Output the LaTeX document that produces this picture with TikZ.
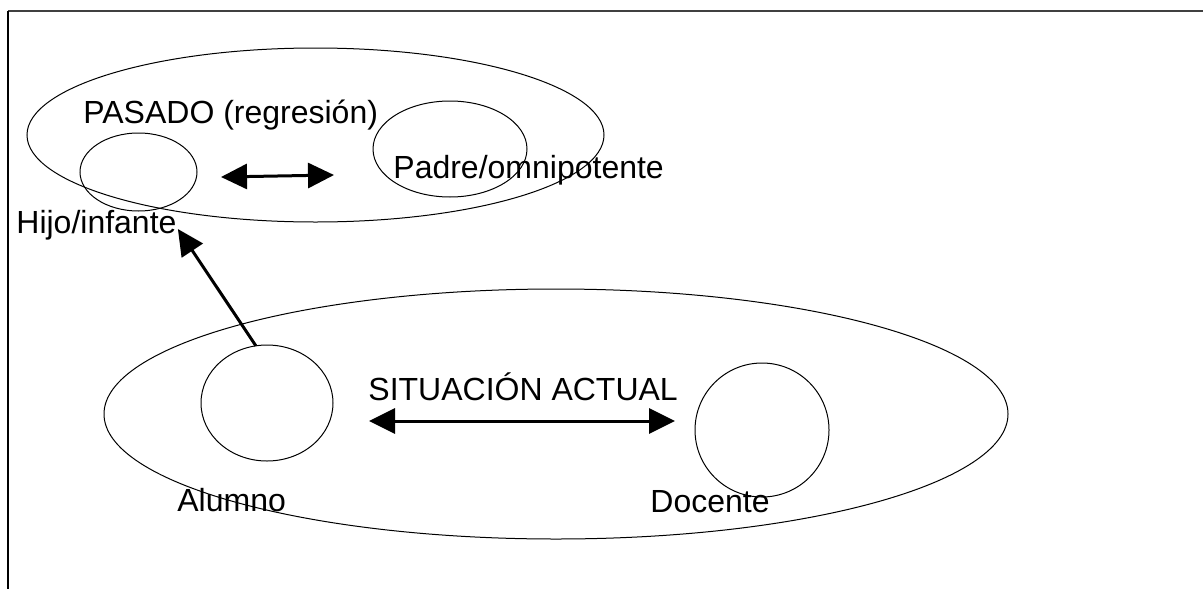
\documentclass[tikz,border=0pt]{standalone}
\usepackage{fontspec}
\setmainfont{Liberation Sans}
\usetikzlibrary{shapes.geometric,arrows.meta}
\begin{document}
\begin{tikzpicture}[x=0.5pt,y=-0.5pt,
  oval/.style={draw,ellipse,inner sep=0pt,outer sep=0pt,line width=0.5pt},
  lbl/.style={inner sep=0pt,anchor=base west,font=\fontsize{16}{19}\selectfont},
  bigarrow/.style={line width=1.5pt,{Triangle[length=13pt,width=12.5pt]}-{Triangle[length=13pt,width=12.5pt]}},
  onearrow/.style={line width=1.5pt,-{Triangle[length=13pt,width=12.5pt]}}]
\useasboundingbox (0,0) rectangle (1203,589);
% frame
\draw[line width=1pt,black!75] (8,11) -- (1203,11);
\draw[line width=0.6pt] (8,11) -- (8,589);
% past
\node[oval,minimum width=288.5pt,minimum height=87pt] (pasado) at (315.5,135) {};
\node[oval,minimum width=58.5pt,minimum height=39pt] (hijoc) at (138.5,172) {};
\node[oval,minimum width=77pt,minimum height=48pt] (padrec) at (450,149) {};
\node[lbl] (pasadot) at (83,123) {PASADO (regresión)};
\node[lbl] (padret) at (393,178) {Padre/omnipotente};
\node[lbl] (hijot) at (16,233) {Hijo/infante};
\coordinate (ta1) at (221,177);
\coordinate (ta2) at (334,175);
\draw[bigarrow] (ta1) -- (ta2);
% present
\node[oval,minimum width=452pt,minimum height=125pt] (actual) at (556,414) {};
\node[oval,minimum width=66pt,minimum height=58pt] (alumnoc) at (267,403) {};
\node[oval,minimum width=67pt,minimum height=67pt] (docentec) at (762,430) {};
\node[lbl] (actualt) at (368,400) {SITUACIÓN ACTUAL};
\node[lbl] (alumnot) at (177,511) {Alumno};
\node[lbl] (docentet) at (650,512) {Docente};
\coordinate (ba1) at (369,421);
\coordinate (ba2) at (675,421);
\draw[bigarrow] (ba1) -- (ba2);
% regression arrow
\draw[onearrow] (alumnoc.101) -- ([shift={(1,-4)}]hijot.base east);
\end{tikzpicture}
\end{document}
